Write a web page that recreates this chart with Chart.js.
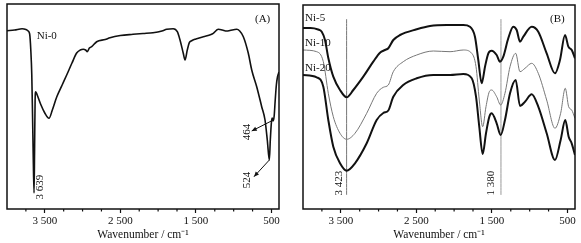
<!DOCTYPE html>
<html><head><meta charset="utf-8">
<script src="https://cdn.jsdelivr.net/npm/chart.js@4"></script>
<style>
html,body{margin:0;padding:0;background:#fff;}
#wrap{position:relative;width:581px;height:243px;overflow:hidden;}
#ca{position:absolute;left:0;top:0;}
#cb{position:absolute;left:290px;top:0;}
</style></head><body>
<div id="wrap"><canvas id="ca" width="290" height="243"></canvas><canvas id="cb" width="291" height="243"></canvas></div>
<script>
// ---------- data (transmittance, arbitrary units) ----------
const majorTicks = [3500, 2500, 1500, 500];
const tickLabels = ['3 500', '2 500', '1 500', '500'];
const minorTicks = [3750, 3250, 3000, 2750, 2250, 2000, 1750, 1250, 1000, 750];

const ni0Wn = [4000,3900,3800,3750,3720,3700,3685,3672,3662,3652,3642,3635,3628,3620,3600,3550,3500,3444,3400,3342,3270,3210,3140,3078,3030,2990,2960,2937,2910,2879,2813,2700,2637,2500,2332,2200,2068,1950,1886,1800,1746,1710,1667,1644,1614,1587,1556,1500,1402,1300,1270,1203,1150,1092,1050,960,920,872,807,761,695,629,585,555,528,515,500,490,478,464,450,435,420,400];
const ni0T = [178.3,179,180.3,179.5,178,175,159,134,94,49,16,59,109,117.3,114,104,96,90.7,99,112,124,134,146,156,159,159.7,159,157.3,161,162.3,167.3,169.5,171.3,173.5,174.7,175.5,176.3,178,179.7,180.3,177.3,169,155.7,149,159,166.3,168.3,170,172.3,174.5,175.7,179.7,179,178,178.5,179.7,178,172.3,156,139,122.3,102.3,89,69,49,69,87,91,88,93,109,124,132,137];

const ni5Wn = [4000,3900,3800,3752,3709,3665,3599,3510,3422,3334,3202,3070,2981,2915,2871,2805,2716,2495,2319,2098,1878,1790,1724,1680,1635,1591,1547,1503,1437,1393,1349,1283,1217,1172,1128,1084,973,886,775,665,599,532,488,443,400];
const ni5T = [181,181,179.5,177.3,169,151,132.3,119,111.7,119,132.3,147.3,156.3,159,160.7,169,174,179.7,183,184,184,182.3,172.3,149,125.7,142.3,155.7,158.3,154,147.3,152.3,170.7,182.3,179,167.3,172.3,182.3,177.3,155.7,135.7,149,174,162.3,159,150.7];

const ni1020Wn = [4000,3819,3731,3665,3599,3510,3422,3312,3157,3025,2937,2871,2805,2673,2495,2275,2054,1878,1767,1710,1667,1622,1578,1534,1503,1437,1384,1327,1260,1185,1128,1062,973,886,775,665,590,529,484,444,400];
const ni10T = [159,157.3,147.3,115.7,92.3,75.7,69.7,75.7,95.7,115.7,121.7,124,137.3,147.3,154,158,157.3,159,155.7,142.3,109,82.3,102.3,117.3,119,112.3,104,115.7,142.3,155.7,137.3,140.7,145.7,135.7,109,80.7,95.7,120.7,102.3,99,90.7];
const ni20T = [134,131.7,122.3,89,62.3,45.7,38.3,45.7,65.7,89,96,98.5,112.3,124,130.7,134,134,135,130.7,112.3,82.3,55,75.7,92.3,95.7,85.7,74,89,115.7,129,103,107.3,114.7,102.3,75.7,49,69,89,72.3,65.7,54];

const markedBandsB = [3423, 1380];

// ---------- helpers ----------
const pts = (xs, ys) => xs.map((x, i) => ({x, y: ys[i]}));
const FONT = "'Liberation Serif', 'Times New Roman', serif";
const INK = '#111';

const decoPlugin = {
  id: 'deco',
  afterDatasetsDraw(chart, args, opts) {
    const {ctx, chartArea: a, scales: {x, y}} = chart;
    ctx.save();
    ctx.strokeStyle = INK;
    ctx.fillStyle = INK;
    ctx.lineWidth = 1.5;
    ctx.strokeRect(a.left, a.top, a.right - a.left, a.bottom - a.top);
    ctx.lineWidth = 1.2;
    minorTicks.forEach(v => {
      const px = x.getPixelForValue(v);
      ctx.beginPath(); ctx.moveTo(px, a.bottom); ctx.lineTo(px, a.bottom + 2.5); ctx.stroke();
    });
    ctx.font = '11px ' + FONT;
    (opts.texts || []).forEach(t => {
      const px = x.getPixelForValue(t.wn), py = y.getPixelForValue(t.t);
      ctx.save();
      ctx.translate(px, py);
      if (t.rot) { ctx.rotate(-Math.PI / 2); ctx.textAlign = 'center'; }
      else ctx.textAlign = 'left';
      ctx.textBaseline = 'middle';
      ctx.fillText(t.text, 0, 0);
      ctx.restore();
    });
    ctx.lineWidth = 1;
    (opts.arrows || []).forEach(ar => {
      const x1 = x.getPixelForValue(ar.from[0]), y1 = y.getPixelForValue(ar.from[1]);
      const x2 = x.getPixelForValue(ar.to[0]), y2 = y.getPixelForValue(ar.to[1]);
      ctx.beginPath(); ctx.moveTo(x1, y1); ctx.lineTo(x2, y2); ctx.stroke();
      const ang = Math.atan2(y2 - y1, x2 - x1), L = 5, W = 2.2;
      ctx.beginPath();
      ctx.moveTo(x2, y2);
      ctx.lineTo(x2 - L * Math.cos(ang) + W * Math.sin(ang), y2 - L * Math.sin(ang) - W * Math.cos(ang));
      ctx.lineTo(x2 - L * Math.cos(ang) - W * Math.sin(ang), y2 - L * Math.sin(ang) + W * Math.cos(ang));
      ctx.closePath(); ctx.fill();
    });
    ctx.restore();
  }
};

function makeOptions(pad, ymax, deco) {
  return {
    responsive: false,
    animation: false,
    layout: {padding: pad},
    elements: {point: {radius: 0}, line: {cubicInterpolationMode: 'monotone'}},
    plugins: {legend: {display: false}, tooltip: {enabled: false}, deco},
    scales: {
      x: {
        type: 'linear', reverse: true, min: 400, max: 4000,
        afterBuildTicks: s => { s.ticks = majorTicks.map(v => ({value: v})); },
        afterFit: s => { s.height = 34; },
        grid: {drawOnChartArea: false, drawTicks: true, tickLength: 4, color: INK, tickColor: INK, tickWidth: 1.2},
        border: {display: false},
        ticks: {
          font: {family: FONT, size: 11}, color: INK, padding: 2,
          maxRotation: 0, autoSkip: false,
          callback: v => tickLabels[majorTicks.indexOf(v)]
        },
        title: {display: true, text: 'Wavenumber / cm⁻¹', color: INK,
                font: {family: FONT, size: 11.5}, padding: {top: 0, bottom: 1}}
      },
      y: {display: false, min: 0, max: ymax}
    }
  };
}

new Chart(document.getElementById('ca'), {
  type: 'line',
  data: {datasets: [
    {label: 'Ni-0', data: pts(ni0Wn, ni0T), borderColor: INK, borderWidth: 1.6}
  ]},
  options: makeOptions({left: 7, right: 11, top: 4, bottom: 0}, 205, {
    texts: [
      {text: 'Ni-0', wn: 3607, t: 173},
      {text: '(A)', wn: 718, t: 190},
      {text: '3 639', wn: 3557, t: 22, rot: true},
      {text: '464', wn: 817, t: 77, rot: true},
      {text: '524', wn: 824, t: 29, rot: true}
    ],
    arrows: [
      {from: [493, 88.3], to: [761, 78]},
      {from: [528, 49], to: [731, 32.3]}
    ]
  }),
  plugins: [decoPlugin]
});

new Chart(document.getElementById('cb'), {
  type: 'line',
  data: {datasets: [
    {label: 'Ni-5', data: pts(ni5Wn, ni5T), borderColor: INK, borderWidth: 2},
    {label: 'Ni-10', data: pts(ni1020Wn, ni10T), borderColor: '#777', borderWidth: 1},
    {label: 'Ni-20', data: pts(ni1020Wn, ni20T), borderColor: INK, borderWidth: 2},
    {label: '3423', data: [{x: markedBandsB[0], y: 14}, {x: markedBandsB[0], y: 190}], borderColor: '#777', borderWidth: 1},
    {label: '1380', data: [{x: markedBandsB[1], y: 14}, {x: markedBandsB[1], y: 190}], borderColor: '#999', borderWidth: 1}
  ]},
  options: makeOptions({left: 13, right: 6, top: 5, bottom: 0}, 204, {
    texts: [
      {text: 'Ni-5', wn: 3974, t: 190.7},
      {text: 'Ni-10', wn: 3974, t: 166.3},
      {text: 'Ni-20', wn: 3974, t: 140.7},
      {text: '(B)', wn: 731, t: 190},
      {text: '3 423', wn: 3524, t: 26, rot: true},
      {text: '1 380', wn: 1512, t: 26, rot: true}
    ]
  }),
  plugins: [decoPlugin]
});
</script>
</body></html>
